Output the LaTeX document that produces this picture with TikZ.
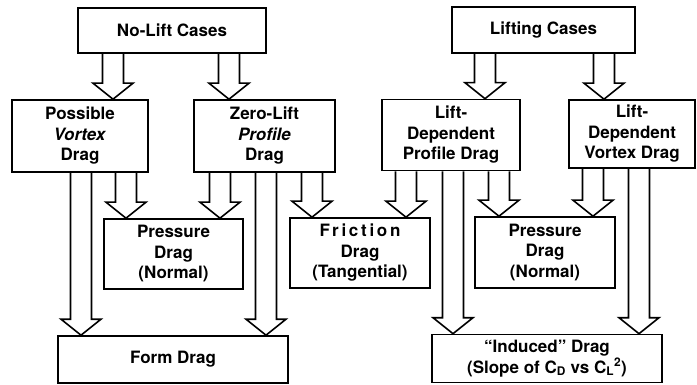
\documentclass[tikz,border=0pt]{standalone}
\usepackage{fontspec}
\setmainfont{TeX Gyre Heros}
\usepackage{tikz}

\begin{document}
\begin{tikzpicture}[
    x=1pt, y=-1pt,
    box/.style={draw, line width=1.6pt, align=center, inner sep=0pt},
    hollow/.style={line width=1.6pt, line join=miter},
    font=\fontsize{17}{20.5}\selectfont\bfseries
]
    \useasboundingbox (0,0) rectangle (697,385);

    % top row: the two cases
    \node[box, minimum width=188pt, minimum height=45pt] (nolift)  at (172,30.5)  {No-Lift Cases};
    \node[box, minimum width=183pt, minimum height=46pt] (lifting) at (543.5,30) {Lifting Cases};

    % second row: drag kinds
    \node[box, minimum width=136pt, minimum height=72pt] (vortex)    at (80,136)    {Possible\\\textit{Vortex}\\Drag};
    \node[box, minimum width=141pt, minimum height=72pt] (zerolift)  at (264.5,136) {Zero-Lift\\\textit{Profile}\\Drag};
    \node[box, minimum width=138pt, minimum height=71pt] (ldprofile) at (451,135)   {Lift-\\Dependent\\Profile Drag};
    \node[box, minimum width=126pt, minimum height=68pt] (ldvortex)  at (632,134)   {Lift-\\Dependent\\Vortex Drag};

    % third row: pressure and friction
    \node[box, minimum width=139pt, minimum height=70pt] (pressL)   at (173.5,254) {Pressure\\Drag\\(Normal)};
    \node[box, minimum width=140pt, minimum height=70pt] (friction) at (360,253)   {{\addfontfeature{LetterSpace=16}Friction}\\Drag\\(Tangential)};
    \node[box, minimum width=140pt, minimum height=71pt] (pressR)   at (545,252.5) {Pressure\\Drag\\(Normal)};

    % bottom row
    \node[box, minimum width=230pt, minimum height=47pt] (form)    at (173,359.5) {Form Drag};
    \node[box, minimum width=230pt, minimum height=48pt] (induced) at (547,358.5)
        {``Induced'' Drag\\(Slope of C\textsubscript{D} vs C\textsubscript{L}\textsuperscript{2})};

    % hollow block arrows: centre x / from / to
    \foreach \x/\a/\b in {113/nolift/vortex, 229/nolift/zerolift,
                          485/lifting/ldprofile, 604/lifting/ldvortex,
                          81/vortex/form, 126/vortex/pressL,
                          220/zerolift/pressL, 266/zerolift/form, 312/zerolift/friction,
                          406/ldprofile/friction, 453/ldprofile/induced, 499/ldprofile/pressR,
                          593/ldvortex/pressR, 639/ldvortex/induced}{
        \coordinate (s) at (\x,0 |- \a.south);
        \coordinate (t) at (\x,0 |- \b.north);
        \draw[hollow] ([xshift=-10.5pt]s) -- ([xshift=-10.5pt,yshift=16pt]t)
            -- ([xshift=-20pt,yshift=16pt]t) -- (t)
            -- ([xshift=20pt,yshift=16pt]t) -- ([xshift=10.5pt,yshift=16pt]t)
            -- ([xshift=10.5pt]s);
    }

\end{tikzpicture}
\end{document}
